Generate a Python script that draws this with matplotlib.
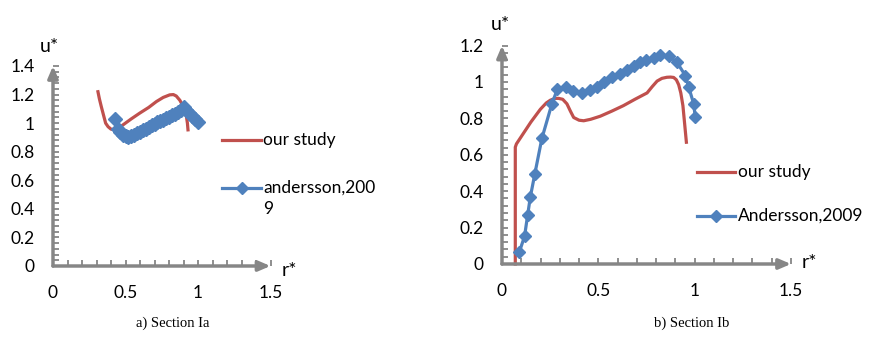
import numpy as np
import matplotlib.pyplot as plt
from matplotlib.lines import Line2D
from matplotlib.ticker import MultipleLocator

plt.rcParams['font.family'] = ['Lato', 'DejaVu Sans']

# section Ia
r_our_a = [0.31, 0.32, 0.333, 0.35, 0.363, 0.38, 0.40, 0.425, 0.45, 0.483, 0.54, 0.598, 0.66, 0.713,
           0.76, 0.805, 0.83, 0.85, 0.875, 0.892, 0.91, 0.92, 0.927, 0.931]
u_our_a = [1.22, 1.17, 1.116, 1.05, 1.0, 0.975, 0.958, 0.953, 0.962, 0.988, 1.03, 1.07, 1.11, 1.151,
           1.18, 1.198, 1.2, 1.19, 1.16, 1.128, 1.09, 1.047, 1.0, 0.953]
r_and_a = [0.43, 0.45, 0.46, 0.48, 0.50, 0.52, 0.54, 0.56, 0.58, 0.60, 0.62, 0.64, 0.66, 0.68, 0.70,
           0.72, 0.74, 0.76, 0.78, 0.80, 0.82, 0.84, 0.86, 0.88, 0.90, 0.92, 0.94, 0.96, 0.98, 1.00]
u_and_a = [1.03, 0.96, 0.94, 0.92, 0.91, 0.90, 0.91, 0.92, 0.93, 0.94, 0.95, 0.96, 0.975, 0.985, 0.995,
           1.005, 1.015, 1.025, 1.035, 1.045, 1.055, 1.065, 1.08, 1.095, 1.11, 1.09, 1.07, 1.05, 1.03, 1.01]

# section Ib
r_our_b = [0.069, 0.069, 0.075, 0.10, 0.15, 0.199, 0.23, 0.251, 0.275, 0.294, 0.315, 0.337, 0.355,
           0.372, 0.40, 0.424, 0.46, 0.51, 0.57, 0.63, 0.69, 0.753, 0.78, 0.805, 0.83, 0.856, 0.875,
           0.891, 0.905, 0.917, 0.928, 0.939, 0.948, 0.957]
u_our_b = [0.0, 0.642, 0.66, 0.70, 0.78, 0.85, 0.885, 0.90, 0.91, 0.91, 0.905, 0.88, 0.84,
           0.805, 0.79, 0.787, 0.795, 0.812, 0.84, 0.87, 0.905, 0.94, 0.975, 1.005, 1.02, 1.026, 1.027,
           1.025, 1.012, 0.985, 0.94, 0.87, 0.77, 0.669]
r_and_b = [0.09, 0.117, 0.133, 0.147, 0.17, 0.207, 0.259, 0.288, 0.333, 0.371, 0.415, 0.458, 0.493,
           0.528, 0.571, 0.614, 0.649, 0.683, 0.718, 0.749, 0.787, 0.822, 0.865, 0.908, 0.952, 0.969,
           0.995, 1.003]
u_and_b = [0.066, 0.152, 0.268, 0.368, 0.493, 0.69, 0.88, 0.962, 0.972, 0.95, 0.94, 0.954, 0.972,
           0.998, 1.026, 1.044, 1.066, 1.09, 1.108, 1.12, 1.132, 1.148, 1.144, 1.108, 1.035, 0.972,
           0.88, 0.807]

RED = '#C0504D'
BLUE = '#4F81BD'
GRAY = '#868686'
W, H = 873, 341


def px(x, y):
    return x / W, 1 - y / H


fig = plt.figure(figsize=(W / 100, H / 100), dpi=100)


def setup(ax, ymax):
    ax.set_xlim(0, 1.5)
    ax.set_ylim(0, ymax)
    ax.xaxis.set_minor_locator(MultipleLocator(0.1))
    ax.yaxis.set_minor_locator(MultipleLocator(0.04))
    ax.set_xticks([0, 0.5, 1, 1.5], ['0', '0.5', '1', '1.5'])
    yt = np.round(np.arange(0, ymax + 0.01, 0.2), 1)
    ax.set_yticks(yt, [f'{v:g}' for v in yt])
    for s in ax.spines.values():
        s.set_visible(False)
    ax.tick_params(which='both', direction='in', color=GRAY, width=1.3, length=4,
                   labelsize=12.5, labelcolor='black')
    ax.tick_params(axis='y', which='major', pad=13)
    ax.tick_params(axis='x', which='major', pad=14)
    for xy in [(1.0, 0), (0, 1.0)]:
        ax.annotate('', xy=xy, xytext=(0, 0), xycoords='axes fraction',
                    arrowprops=dict(arrowstyle='-|>,head_length=0.7,head_width=0.3', color=GRAY,
                                    lw=2.5, shrinkA=0, shrinkB=0), annotation_clip=False)


# left panel
l, b = px(53, 266)
ax1 = fig.add_axes([l, b, 217.5 / W, 200 / H])
setup(ax1, 1.4)
ax1.plot(r_our_a, u_our_a, color=RED, lw=2.3, clip_on=False)
ax1.plot(r_and_a, u_and_a, color=BLUE, lw=2.5, marker='D', ms=7, clip_on=False)

# right panel
l, b = px(502, 264)
ax2 = fig.add_axes([l, b, 289 / W, 218.4 / H])
setup(ax2, 1.2)
ax2.plot(r_our_b, u_our_b, color=RED, lw=2.3, clip_on=False)
ax2.plot(r_and_b, u_and_b, color=BLUE, lw=2.3, marker='D', ms=6.5, clip_on=False)

# axis titles
fig.text(*px(40, 46), 'u*', fontsize=14, va='center')
fig.text(*px(282, 270), 'r*', fontsize=14, va='center')
fig.text(*px(491, 25), 'u*', fontsize=14, va='center')
fig.text(*px(802, 263), 'r*', fontsize=14, va='center')

# legends
for (x0, x1, yr, yb) in [(222, 261, 140, 188), (697, 735, 172, 216)]:
    fig.add_artist(Line2D([x0 / W, x1 / W], [1 - yr / H] * 2, color=RED, lw=2.3))
    fig.add_artist(Line2D([x0 / W, x1 / W], [1 - yb / H] * 2, color=BLUE, lw=2.3))
    fig.add_artist(Line2D([(x0 + x1) / 2 / W], [1 - yb / H], color=BLUE, marker='D', ms=6.5))

fig.text(*px(263, 140), 'our study', fontsize=12.5, va='center')
fig.text(*px(263, 188), 'andersson,200', fontsize=12.5, va='center')
fig.text(*px(263, 209), '9', fontsize=12.5, va='center')
fig.text(*px(738, 172), 'our study', fontsize=12.5, va='center')
fig.text(*px(738, 216), 'Andersson,2009', fontsize=12.5, va='center')

# captions
fig.text(*px(173, 323), 'a) Section Ia', fontsize=10.5, ha='center', va='center',
         family='Liberation Serif')
fig.text(*px(692, 323), 'b) Section Ib', fontsize=10.5, ha='center', va='center',
         family='Liberation Serif')

fig.savefig('out.png', dpi=100)
